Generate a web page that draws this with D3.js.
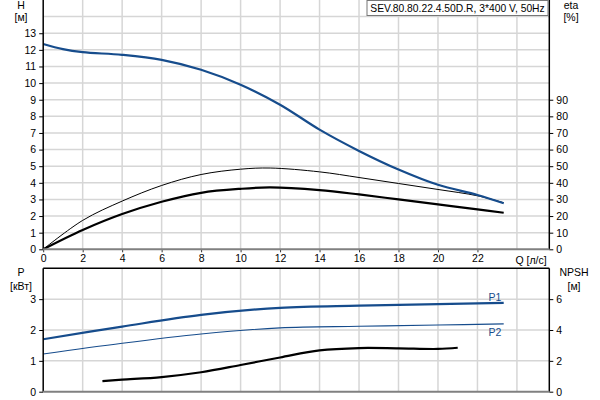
<!DOCTYPE html>
<html><head><meta charset="utf-8">
<script src="https://cdn.jsdelivr.net/npm/d3@7"></script>
<style>body{margin:0;background:#fff}svg{display:block;font-family:"Liberation Sans",Arial,sans-serif}</style>
</head><body><svg id="c" width="600" height="400"></svg>
<script>
// ---- data ----
const title = "SEV.80.80.22.4.50D.R, 3*400 V, 50Hz";
const qTicks = [0,2,4,6,8,10,12,14,16,18,20,22];
const hTicks = [0,1,2,3,4,5,6,7,8,9,10,11,12,13];
const etaTicks = [0,10,20,30,40,50,60,70,80,90];
const pTicks = [0,1,2,3];
const npshTicks = [0,2,4,6];

const headQ = [0,1,2,4,6,8,10,12,14,16,18,20,22,23.33];
const headH = [12.35,12.04,11.86,11.7,11.4,10.8,9.9,8.7,7.2,5.92,4.8,3.88,3.27,2.77];

const etaQ = [0,2,4,6,8,10,11.5,14,16,18,20,22,23.33];
const etaPump = [0,17.4,29,38.4,45,48.2,48.9,46.6,43.2,39.6,36,32.2,28];
const etaTotal = [0,11.6,21.2,28.6,34,36.4,37.2,35.6,33,30,27,24,22];

const pQ = [0,4,8,12,16,20,23.33];
const p1 = [1.70,2.11,2.49,2.72,2.79,2.84,2.88];
const p2 = [1.22,1.57,1.87,2.07,2.12,2.16,2.20];

const npshQ = [3,4,6,8,10,12,14,16,18,20,21];
const npsh = [0.69,0.78,0.95,1.26,1.73,2.22,2.68,2.83,2.81,2.77,2.85];

// ---- layout ----
const svg = d3.select("#c");
const L = 43.2, R = 549.3;
const blue = "#164c8c", grid = "#d6d6d6";
const FS = "10.5px";
const x = d3.scaleLinear().domain([0, 25.64]).range([L, R]);
const yH = d3.scaleLinear().domain([0, 15]).range([249.3, 0]);
const yEta = d3.scaleLinear().domain([0, 150]).range([249.3, 0]);
const yP = d3.scaleLinear().domain([0, 4]).range([391.7, 268.3]);
const yN = d3.scaleLinear().domain([0, 8]).range([391.7, 268.3]);
const gridQ = d3.range(2, 25, 2);

function gridLines(g, yScale, yVals, y0, y1) {
  g.selectAll(null).data(gridQ).enter().append("line")
    .attr("x1", d => x(d)).attr("x2", d => x(d)).attr("y1", y0).attr("y2", y1)
    .attr("stroke", grid).attr("stroke-width", 1.5);
  g.selectAll(null).data(yVals).enter().append("line")
    .attr("x1", L).attr("x2", R).attr("y1", d => yScale(d)).attr("y2", d => yScale(d))
    .attr("stroke", grid).attr("stroke-width", 1.5);
}
gridLines(svg.append("g"), yH, d3.range(1, 15), 0, 249.3);
gridLines(svg.append("g"), yP, [1,2,3], 268.3, 391.7);

const line = (xs, ys, sx, sy) => d3.line().curve(d3.curveCatmullRom.alpha(0.5))
  .x((d,i) => sx(xs[i])).y(d => sy(d))(ys);
function path(xs, ys, sx, sy, color, w) {
  svg.append("path").attr("d", line(xs, ys, sx, sy)).attr("fill","none")
    .attr("stroke", color).attr("stroke-width", w).attr("stroke-linecap","butt");
}
path(etaQ, etaPump, x, yEta, "#000", 1);
path(etaQ, etaTotal, x, yEta, "#000", 2.2);
path(headQ, headH, x, yH, blue, 2.2);
path(pQ, p1, x, yP, blue, 2.2);
path(pQ, p2, x, yP, blue, 1.1);
path(npshQ, npsh, x, yN, "#000", 2.2);

// axes
function styleAxis(g, color) {
  g.selectAll("text").attr("font-size", FS).attr("fill","#000").attr("font-family","Liberation Sans, Arial, sans-serif");
  g.selectAll("line").attr("stroke", color || "#000");
  g.select(".domain").remove();
}
styleAxis(svg.append("g").attr("transform",`translate(${L},0)`)
  .call(d3.axisLeft(yH).tickValues(hTicks).tickSize(4).tickPadding(3).tickFormat(d3.format("d"))));
styleAxis(svg.append("g").attr("transform",`translate(${R},0)`)
  .call(d3.axisRight(yEta).tickValues(etaTicks).tickSize(4).tickPadding(3).tickFormat(d3.format("d"))));
styleAxis(svg.append("g").attr("transform",`translate(0,249.3)`)
  .call(d3.axisBottom(x).tickValues(qTicks).tickSize(3).tickPadding(2).tickFormat(d3.format("d"))), "#333");
styleAxis(svg.append("g").attr("transform",`translate(${L},0)`)
  .call(d3.axisLeft(yP).tickValues(pTicks).tickSize(4).tickPadding(3).tickFormat(d3.format("d"))));
styleAxis(svg.append("g").attr("transform",`translate(${R},0)`)
  .call(d3.axisRight(yN).tickValues(npshTicks).tickSize(4).tickPadding(3).tickFormat(d3.format("d"))));

// frame lines
function ln(x1,y1,x2,y2,c,w){svg.append("line").attr("x1",x1).attr("y1",y1).attr("x2",x2).attr("y2",y2).attr("stroke",c).attr("stroke-width",w);}
ln(L,0,L,249.3,"#000",1.5);
ln(R,0,R,249.3,"#000",1.5);
ln(L,249.3,R,249.3,"#808080",2);
ln(L,268.3,R,268.3,"#000",1.5);
ln(L,268.3,L,391.7,"#000",1.5);
ln(R,268.3,R,391.7,"#000",1.5);
ln(L,391.7,R,391.7,"#808080",2);

// labels
function txt(s, xx, yy, anchor, color, size) {
  svg.append("text").text(s).attr("x",xx).attr("y",yy).attr("text-anchor",anchor||"middle")
    .attr("dominant-baseline","central").attr("font-size",size||FS).attr("fill",color||"#000");
}
txt("H", 21, 5); txt("[м]", 21, 17);
txt("eta", 571, 5); txt("[%]", 571, 17);
txt("P", 21, 272); txt("[кВт]", 21, 286);
txt("NPSH", 574, 272); txt("[м]", 574, 286);
txt("Q [л/с]", 531, 259.5);
txt("P1", 495, 297, "middle", blue);
txt("P2", 495, 332, "middle", blue);

// title box
svg.append("rect").attr("x",367).attr("y",0.5).attr("width",181).attr("height",15).attr("fill","#fff").attr("stroke","#777").attr("stroke-width",1);
txt(title, 457.5, 8.5, "middle", "#000", "10.3px");
</script></body></html>
